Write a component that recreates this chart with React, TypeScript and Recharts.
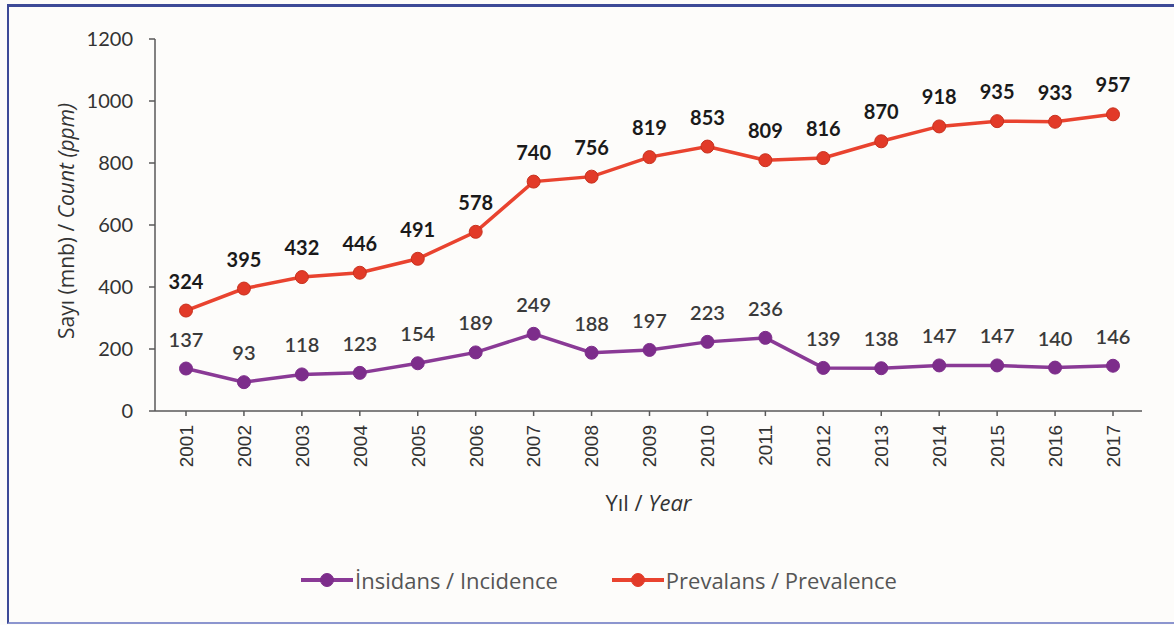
import { LineChart, Line, XAxis, YAxis, Legend, LabelList } from 'recharts';

const years = ['2001', '2002', '2003', '2004', '2005', '2006', '2007', '2008', '2009', '2010', '2011', '2012', '2013', '2014', '2015', '2016', '2017'];
const incidence = [137, 93, 118, 123, 154, 189, 249, 188, 197, 223, 236, 139, 138, 147, 147, 140, 146];
const prevalence = [324, 395, 432, 446, 491, 578, 740, 756, 819, 853, 809, 816, 870, 918, 935, 933, 957];
const yTicks = [0, 200, 400, 600, 800, 1000, 1200];

const data = years.map((year, i) => ({ year, incidence: incidence[i], prevalence: prevalence[i] }));

const PURPLE = '#8a3a96';
const PURPLE_DOT = '#7d2d8b';
const RED = '#e9432f';
const RED_DOT = '#e23a28';
const AXIS = '#595959';
const FONT = 'Lato, "Open Sans", sans-serif';
const TITLE_FONT = '"Open Sans", Lato, sans-serif';

function YearTick({ x, y, payload }: any) {
  return (
    <text
      x={x}
      y={y}
      dy="0.36em"
      transform={`rotate(-90, ${x}, ${y})`}
      textAnchor="end"
      fontFamily='"Liberation Sans", Arial, sans-serif'
      fontSize={19}
      fill="#333"
    >
      {payload.value}
    </text>
  );
}

function YTitle({ viewBox }: any) {
  const cx = viewBox.x + 67;
  const cy = viewBox.y + viewBox.height / 2 - 4;
  return (
    <text
      x={cx}
      y={cy}
      dy="0.35em"
      transform={`rotate(-90, ${cx}, ${cy})`}
      textAnchor="middle"
      fontFamily={TITLE_FONT}
      fontSize={21}
      fill="#333"
    >
      Sayı (mnb) / <tspan fontStyle="italic">Count (ppm)</tspan>
    </text>
  );
}

function XTitle({ viewBox }: any) {
  return (
    <text
      x={viewBox.x + viewBox.width / 2}
      y={viewBox.y + 92}
      dy="0.35em"
      textAnchor="middle"
      fontFamily={TITLE_FONT}
      fontSize={22}
      fill="#333"
    >
      Yıl / <tspan fontStyle="italic">Year</tspan>
    </text>
  );
}

const legendItems = [
  { name: 'İnsidans / Incidence', line: PURPLE, dot: PURPLE_DOT },
  { name: 'Prevalans / Prevalence', line: RED, dot: RED_DOT },
];

function LegendBox() {
  return (
    <div
      style={{
        display: 'flex',
        justifyContent: 'center',
        alignItems: 'center',
        height: 60,
        paddingLeft: 24,
        fontFamily: '"Liberation Sans Narrow", "Open Sans", sans-serif',
        fontSize: 22,
        color: '#555',
      }}
    >
      {legendItems.map((item, i) => (
        <div key={item.name} style={{ display: 'flex', alignItems: 'center', marginLeft: i ? 54 : 0 }}>
          <svg width={54} height={16}>
            <line x1={0} y1={8} x2={52} y2={8} stroke={item.line} strokeWidth={4} />
            <circle cx={26} cy={8} r={6.5} fill={item.dot} stroke={item.dot} />
          </svg>
          <span>{item.name}</span>
        </div>
      ))}
    </div>
  );
}

export default function App() {
  return (
    <div style={{ position: 'absolute', left: 0, top: 0, width: 1174, height: 625, background: '#fdfcfa', overflow: 'hidden' }}>
      <div
        style={{
          position: 'absolute',
          left: 7,
          top: 4,
          width: 1200,
          height: 615,
          borderTop: '3px solid #3d4a97',
          borderLeft: '2px solid #3d4a97',
          borderBottom: '2px solid #8c95cf',
        }}
      />
      <LineChart
        width={1174}
        height={625}
        data={data}
        margin={{ top: 39, right: 32, bottom: 15, left: 0 }}
        style={{ position: 'absolute', left: 0, top: 0 }}
      >
        <XAxis
          dataKey="year"
          interval={0}
          height={139}
          padding={{ left: 31, right: 29 }}
          tick={<YearTick />}
          tickSize={5}
          tickMargin={9}
          stroke={AXIS}
          strokeWidth={1.5}
          label={<XTitle />}
        />
        <YAxis
          width={155}
          domain={[0, 1200]}
          ticks={yTicks}
          interval={0}
          tickSize={6}
          tickMargin={16}
          stroke={AXIS}
          strokeWidth={1.5}
          tick={{ fontFamily: FONT, fontSize: 20, fill: '#333' }}
          label={<YTitle />}
        />
        <Legend verticalAlign="bottom" content={<LegendBox />} wrapperStyle={{ left: 0, width: 1174 }} />
        <Line
          type="linear"
          dataKey="incidence"
          name="İnsidans / Incidence"
          stroke={PURPLE}
          strokeWidth={3.5}
          dot={{ r: 6.5, fill: PURPLE_DOT, stroke: PURPLE_DOT, strokeWidth: 1 }}
          isAnimationActive={false}
        >
          <LabelList dataKey="incidence" position="top" offset={22} fontFamily={FONT} fontSize={20} fontWeight={600} fill="#3a3a3a" />
        </Line>
        <Line
          type="linear"
          dataKey="prevalence"
          name="Prevalans / Prevalence"
          stroke={RED}
          strokeWidth={3.5}
          dot={{ r: 6.5, fill: RED_DOT, stroke: '#c8321f', strokeWidth: 1 }}
          isAnimationActive={false}
        >
          <LabelList dataKey="prevalence" position="top" offset={22} fontFamily={FONT} fontSize={20} fontWeight="bold" fill="#1a1a1a" />
        </Line>
      </LineChart>
    </div>
  );
}
